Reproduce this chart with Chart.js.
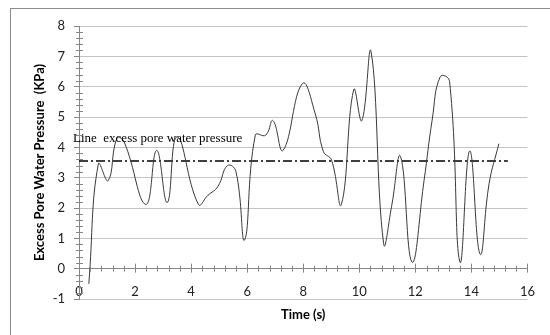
<!DOCTYPE html>
<html>
<head>
<meta charset="utf-8">
<script src="https://cdn.jsdelivr.net/npm/chart.js@4.4.1/dist/chart.umd.min.js"></script>
<style>
  html, body { margin: 0; padding: 0; background: #fff; }
  #wrap { width: 550px; height: 335px; }
</style>
</head>
<body>
<div id="wrap"><canvas id="line-chart" width="550" height="335"></canvas></div>
<script>
// readings taken off the trace
const timeS = [0.35, 0.69, 1.04, 1.35, 1.6, 2.38, 2.77, 3.15, 3.5, 4.26, 4.6, 4.95, 5.3, 5.6, 5.91,
  6.29, 6.66, 6.92, 7.28, 7.97, 8.43, 8.72, 9.01, 9.36, 9.8, 10.09, 10.42, 10.87,
  11.15, 11.47, 11.88, 12.31, 12.6, 12.89, 13.22, 13.59, 13.94, 14.31, 14.63, 14.98];
const pressure = [-0.5, 3.45, 2.9, 4.3, 4.2, 2.12, 3.9, 2.18, 4.35, 2.12, 2.42, 2.7, 3.4, 3.2, 0.95,
  4.4, 4.4, 4.88, 3.9, 6.1, 5.1, 3.86, 3.58, 2.12, 5.9, 4.88, 7.15, 0.82,
  2.04, 3.7, 0.22, 2.9, 4.9, 6.33, 6.18, 0.22, 3.88, 0.48, 2.8, 4.12];

const limitTime = [0, 15.3];
const limitPressure = [3.55, 3.55];
const limitLabel = 'Line  excess pore water pressure';

const axisGray = '#868686';

function pairs(xs, ys) {
  return xs.map((x, i) => ({ x: x, y: ys[i] }));
}

const extras = {
  id: 'extras',
  beforeDraw(chart) {
    const ctx = chart.ctx;
    ctx.save();
    ctx.fillStyle = '#fff';
    ctx.fillRect(0, 0, chart.width, chart.height);
    ctx.strokeStyle = '#8c8c8c';
    ctx.lineWidth = 1;
    ctx.strokeRect(10.5, 8.5, 600, 400);
    ctx.restore();
  },
  afterDraw(chart) {
    const ctx = chart.ctx;
    const xs = chart.scales.x, ys = chart.scales.y;
    const x0 = xs.getPixelForValue(0), y0 = ys.getPixelForValue(0);
    ctx.save();
    ctx.strokeStyle = axisGray;
    ctx.lineWidth = 1;
    ctx.beginPath();
    // minor ticks on the value axis, every 0.2
    for (let i = 0; i <= 45; i++) {
      if (i % 5 === 0) continue;
      const py = Math.round(ys.getPixelForValue(-1 + i * 0.2)) + 0.5;
      ctx.moveTo(x0 - 3, py);
      ctx.lineTo(x0 + 4, py);
    }
    // ticks on the time axis, every 0.4, crossing the line
    for (let i = 0; i <= 40; i++) {
      const px = Math.round(xs.getPixelForValue(i * 0.4)) + 0.5;
      const big = i % 5 === 0;
      ctx.moveTo(px, y0 - (big ? 5 : 3));
      ctx.lineTo(px, y0 + (big ? 4 : 3));
    }
    ctx.stroke();
    ctx.fillStyle = '#000';
    ctx.font = '13px "Liberation Serif"';
    ctx.textBaseline = 'middle';
    ctx.fillText(limitLabel, 73, 139);
    ctx.restore();
  }
};

new Chart(document.getElementById('line-chart'), {
  type: 'scatter',
  data: {
    datasets: [
      {
        label: 'Excess pore water pressure',
        data: pairs(timeS, pressure),
        showLine: true,
        borderColor: '#3a3a3a',
        borderWidth: 1,
        pointRadius: 0,
        tension: 0.45
      },
      {
        label: limitLabel,
        data: pairs(limitTime, limitPressure),
        showLine: true,
        borderColor: '#000',
        borderWidth: 1.5,
        borderDash: [9, 3, 2, 3],
        pointRadius: 0
      }
    ]
  },
  options: {
    responsive: false,
    animation: false,
    layout: { padding: { left: 10, top: 26, right: 11, bottom: 36 } },
    plugins: { legend: { display: false }, tooltip: { enabled: false } },
    scales: {
      x: {
        type: 'linear',
        position: { y: 0 },
        min: 0,
        max: 16,
        ticks: { stepSize: 2, padding: 15, color: '#222', font: { family: 'Lato', size: 13 } },
        grid: { drawOnChartArea: false, drawTicks: false },
        border: { color: axisGray },
        title: {
          display: true,
          text: 'Time (s)',
          color: '#000',
          font: { family: 'Lato', size: 13, weight: 'bold' },
          padding: { top: -7, bottom: 0 }
        }
      },
      y: {
        min: -1,
        max: 8,
        ticks: { stepSize: 1, padding: 9, color: '#222', font: { family: 'Lato', size: 13 } },
        grid: { color: '#c4c4c4', tickColor: axisGray, tickLength: 5 },
        border: { color: axisGray },
        title: {
          display: true,
          text: 'Excess Pore Water Pressure  (KPa)',
          color: '#000',
          font: { family: 'Lato', size: 13, weight: 'bold' },
          padding: { top: 22, bottom: 0 }
        },
        afterFit: s => { s.width = 69; }
      }
    }
  },
  plugins: [extras]
});
</script>
</body>
</html>
